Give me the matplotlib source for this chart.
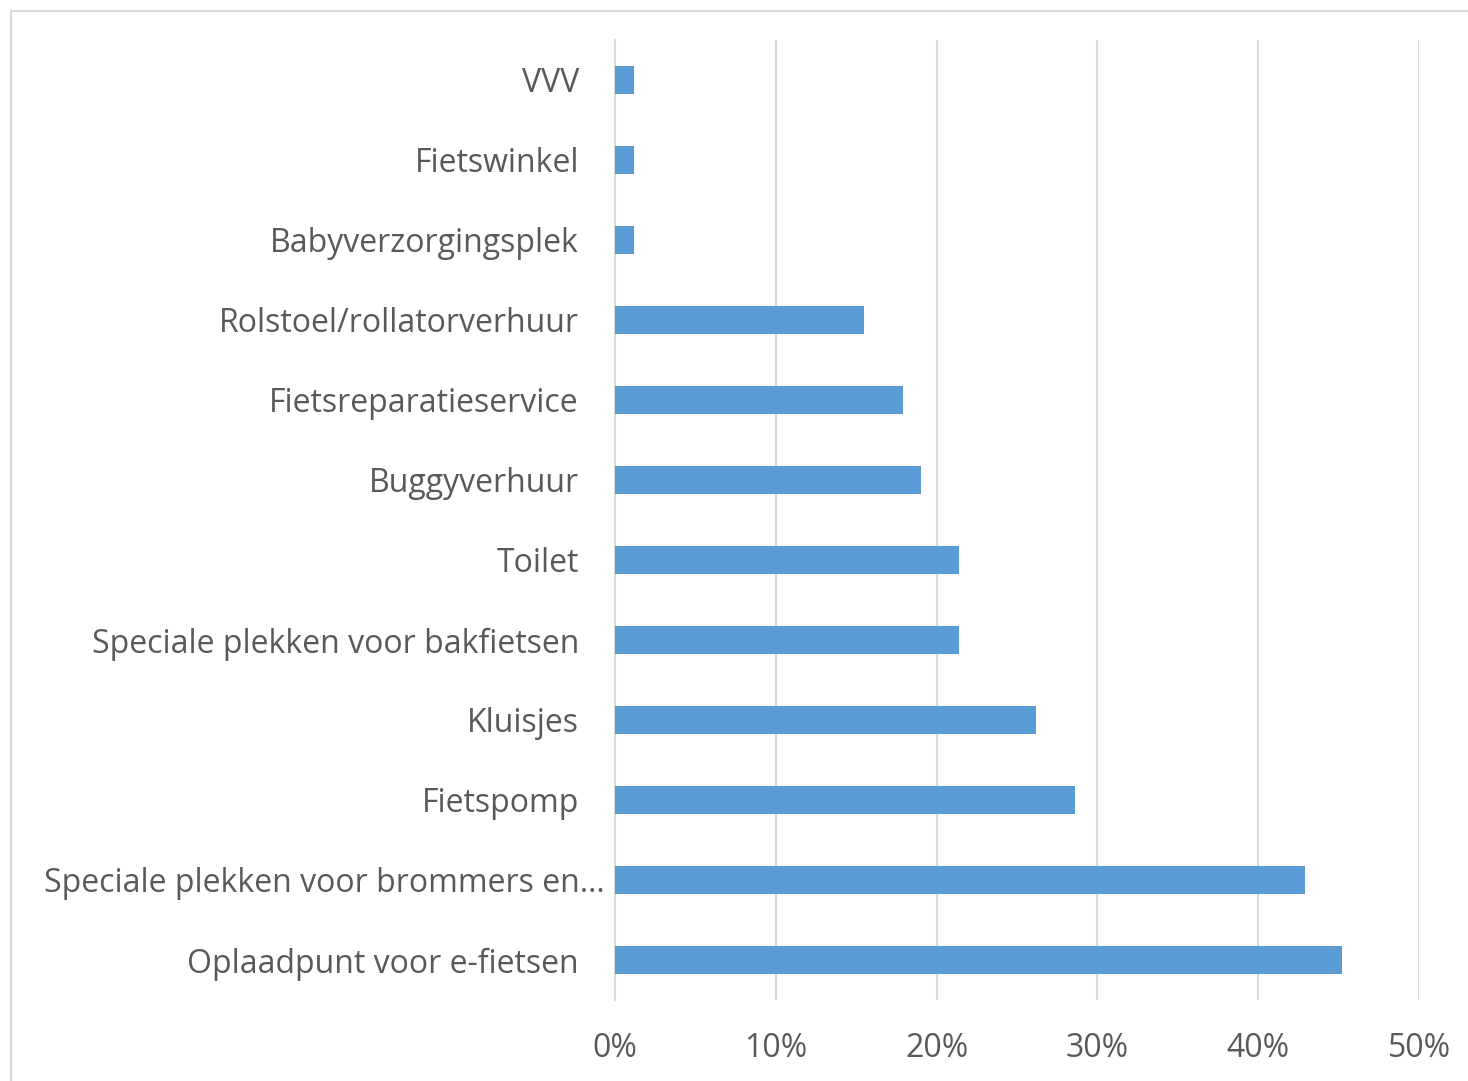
import matplotlib.pyplot as plt
import matplotlib.transforms as mtransforms
from matplotlib.lines import Line2D
from matplotlib.ticker import PercentFormatter

categories = ["Oplaadpunt voor e-fietsen", "Speciale plekken voor brommers en…",
              "Fietspomp", "Kluisjes", "Speciale plekken voor bakfietsen",
              "Toilet", "Buggyverhuur", "Fietsreparatieservice",
              "Rolstoel/rollatorverhuur", "Babyverzorgingsplek",
              "Fietswinkel", "VVV"]
values = [45.2, 42.9, 28.6, 26.2, 21.4, 21.4, 19.0, 17.9, 15.5, 1.2, 1.2, 1.2]
xticks = [0, 10, 20, 30, 40, 50]

plt.rcParams['font.family'] = ['Open Sans', 'DejaVu Sans']
text_col = '#595959'

fig = plt.figure(figsize=(14.68, 10.81), dpi=100)
ax = fig.add_axes([615 / 1468, 1 - 1000 / 1081, 804 / 1468, 960 / 1081])

ypos = range(len(categories))
ax.barh(ypos, values, height=0.35, color='#5B9BD5', zorder=3)
ax.set_ylim(-0.5, len(categories) - 0.5)
ax.set_xlim(0, 50)
ax.set_xticks(xticks)
ax.xaxis.set_major_formatter(PercentFormatter(decimals=0))
ax.set_yticks(list(ypos))
ax.set_yticklabels(categories)

ax.grid(axis='x', color='#D9D9D9', linewidth=1.5, zorder=0)
for s in ['top', 'right', 'bottom']:
    ax.spines[s].set_visible(False)
ax.spines['left'].set_color('#D9D9D9')
ax.spines['left'].set_linewidth(1.5)
ax.tick_params(axis='both', length=0, colors=text_col, labelsize=23)
ax.tick_params(axis='y', pad=26)
ax.tick_params(axis='x', pad=23)

# truncated label sits a little further right
lbl = ax.get_yticklabels()[1]
lbl.set_transform(lbl.get_transform() + mtransforms.ScaledTranslation(26 / 100, 0, fig.dpi_scale_trans))

# chart border (left and top visible)
fig.add_artist(Line2D([11 / 1468, 11 / 1468], [0, 1 - 11 / 1081], color='#D9D9D9', lw=1.5, transform=fig.transFigure))
fig.add_artist(Line2D([11 / 1468, 1], [1 - 11 / 1081, 1 - 11 / 1081], color='#D9D9D9', lw=1.5, transform=fig.transFigure))

fig.savefig('out.png', dpi=100, facecolor='white')
